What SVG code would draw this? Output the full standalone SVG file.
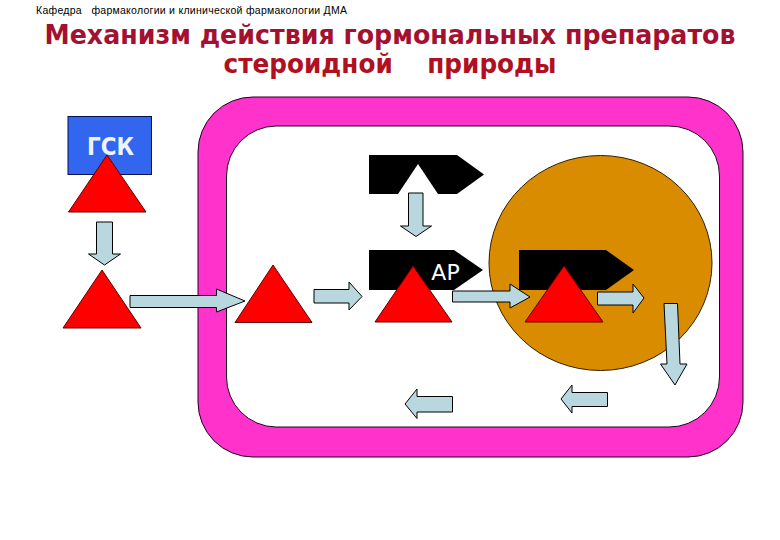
<svg xmlns="http://www.w3.org/2000/svg" width="780" height="540" viewBox="0 0 780 540">
<style>
.tri{fill:#ff0000;stroke:#600000;stroke-width:1;stroke-linejoin:miter}
.arr{fill:#b9d7de;stroke:#000;stroke-width:1}
.pent{fill:#000}
.title{font-family:"DejaVu Sans",sans-serif;font-weight:bold;fill:#a31030;text-anchor:middle;font-size:26px}
</style>
<rect width="780" height="540" fill="#fff"/>
<text x="36" y="14" font-family="'Liberation Sans',sans-serif" font-size="10.500" fill="#000" textLength="311" lengthAdjust="spacing" xml:space="preserve">Кафедра   фармакологии и клинической фармакологии ДМА</text>
<text class="title" x="390" y="44" textLength="691" lengthAdjust="spacingAndGlyphs">Механизм действия гормональных препаратов</text>
<text class="title" x="390" y="73" xml:space="preserve" textLength="333" lengthAdjust="spacingAndGlyphs" style="fill:#b01020">стероидной    природы</text>
<g id="cell"><path fill-rule="evenodd" fill="#ff33cc" stroke="#200020" stroke-width="1" d="M253 97H688A55 55 0 0 1 743 152V402A55 55 0 0 1 688 457H253A55 55 0 0 1 198 402V152A55 55 0 0 1 253 97ZM276 126A50 50 0 0 0 226.500 176V377A50 50 0 0 0 276 427H669A50 50 0 0 0 719.500 377V176A50 50 0 0 0 669 126Z"/></g>
<g id="nucleus"><ellipse cx="600.500" cy="263" rx="111.500" ry="107.500" fill="#d98c00" stroke="#302000" stroke-width="1"/></g>
<g id="gsk"><rect x="68" y="116.500" width="83.500" height="58" fill="#3366ee" stroke="#001050" stroke-width="1"/>
<text x="110.500" y="155" font-family="'DejaVu Sans',sans-serif" font-weight="bold" font-size="25" fill="#eef4ff" text-anchor="middle" textLength="47" lengthAdjust="spacingAndGlyphs">ГСК</text></g>
<g id="receptor-1"><path class="pent" d="M369 155H457L484 174.500L457 194H369Z"/><path fill="#fff" d="M418 164L438 194H398Z"/></g>
<g id="receptor-2"><path class="pent" d="M369 250H454L483 270L454 290H369Z"/><text x="445.500" y="280" font-family="'DejaVu Sans',sans-serif" font-size="22" fill="#fff" text-anchor="middle">АР</text></g>
<g id="receptor-3"><path class="pent" d="M519 250H606L634 270L606 290H519Z"/></g>
<g id="hormone-1"><path class="tri" d="M107 155L146 212H68.500Z"/></g>
<g id="hormone-2"><path class="tri" d="M102 270L141 328H63Z"/></g>
<g id="hormone-3"><path class="tri" d="M273 265L312 322.500H235Z"/></g>
<g id="hormone-4"><path class="tri" d="M413 266L452 322H375Z"/></g>
<g id="hormone-5"><path class="tri" d="M564 266L603 322H525Z"/></g>
<g id="connectors">
<path class="arr" d="M96.500 222H112.500V254H120.500L104.500 265L88.500 254H96.500Z"/>
<path class="arr" d="M130 295.500H216.500V289L245 301L216.500 312V307.500H130Z"/>
<path class="arr" d="M314 289.500H349V282L362 296.500L349 310V303H314Z"/>
<path class="arr" d="M408.500 193H423V226H431.500L416 236.500L400.500 226H408.500Z"/>
<path class="arr" d="M452.500 291H510V284L530 297L510 308V302H452.500Z"/>
<path class="arr" d="M597.500 292H633V284L644 298L633 313V305H597.500Z"/>
<path class="arr" d="M664 303.500H677.500L680 364H687L675 385L660.500 364H667Z"/>
<path class="arr" d="M607.500 392.500V406.500H572V413L561 399L572 385V392.500Z"/>
<path class="arr" d="M452.500 396.500V412H417V418.500L405 404L417 389V396.500Z"/>
</g>
</svg>
